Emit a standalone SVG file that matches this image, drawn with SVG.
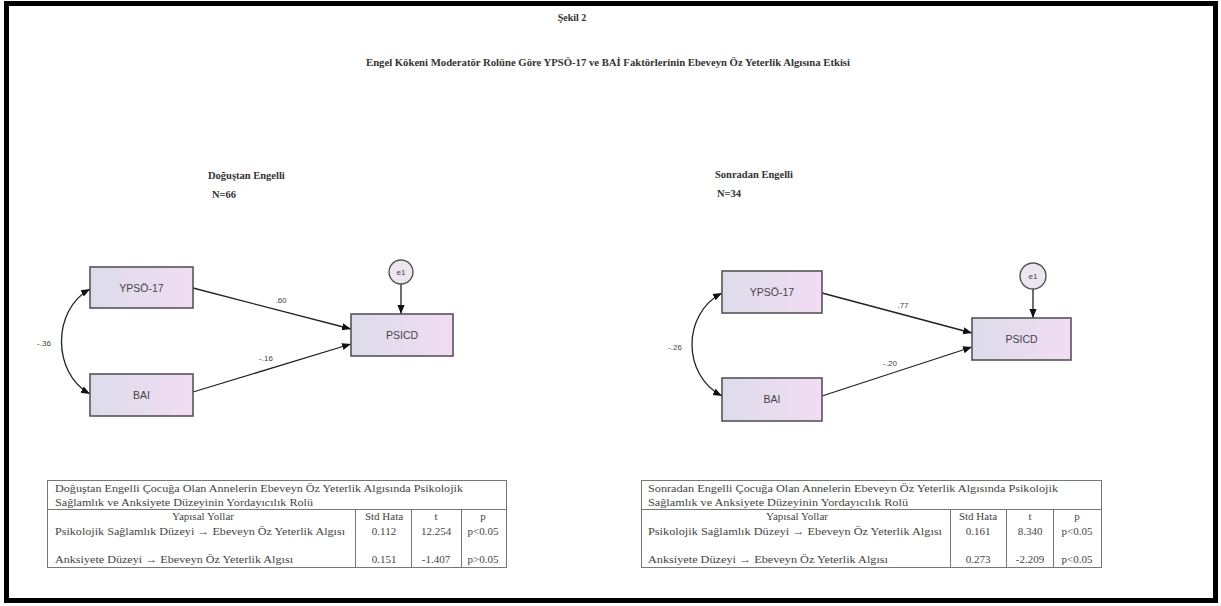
<svg xmlns="http://www.w3.org/2000/svg" width="1221" height="606" viewBox="0 0 1221 606">
  <defs>
    <linearGradient id="boxFill" x1="0" y1="0" x2="1" y2="0">
      <stop offset="0" stop-color="#dcdcea"/>
      <stop offset="1" stop-color="#f2dcf3"/>
    </linearGradient>
    <marker id="arrow" viewBox="0 0 10 10" refX="10" refY="5" markerWidth="9" markerHeight="9" markerUnits="userSpaceOnUse" orient="auto-start-reverse">
      <path d="M0,1 L10,5 L0,9 Z" fill="#111"/>
    </marker>
    <style>
      .frame { fill: none; stroke: #000; stroke-width: 5; }
      .serifB { font-family: "Liberation Serif", "DejaVu Serif", serif; font-weight: bold; fill: #333; }
      .box { fill: url(#boxFill); stroke: #555; stroke-width: 1.6; }
      .err { fill: #ebe6ef; stroke: #555; stroke-width: 1.4; }
      .lbl { font-family: "Liberation Sans", Arial, sans-serif; font-size: 10.5px; fill: #444; text-anchor: middle; }
      .plbl { font-family: "Liberation Sans", Arial, sans-serif; font-size: 8px; fill: #444; text-anchor: middle; }
      .edge { fill: none; stroke: #222; stroke-width: 1.3; marker-end: url(#arrow); }
      .cov { fill: none; stroke: #222; stroke-width: 1.3; marker-start: url(#arrow); marker-end: url(#arrow); }
      .tbl { fill: none; stroke: #777; stroke-width: 1; }
      .tt { font-family: "Liberation Serif", "DejaVu Serif", serif; font-size: 11px; fill: #444; }
      .tc { font-family: "Liberation Serif", "DejaVu Serif", serif; font-size: 11px; fill: #444; text-anchor: middle; }
    </style>
  </defs>

  <rect width="1221" height="606" fill="#fff"/>
  <rect class="frame" x="6.5" y="3.5" width="1209" height="597"/>

  <!-- headings -->
  <text class="serifB" x="572" y="21" font-size="10" text-anchor="middle">Şekil 2</text>
  <text class="serifB" x="366" y="66" font-size="10" textLength="484" lengthAdjust="spacingAndGlyphs">Engel Kökeni Moderatör Rolüne Göre YPSÖ-17 ve BAİ Faktörlerinin Ebeveyn Öz Yeterlik Algısına Etkisi</text>

  <text class="serifB" x="208" y="179" font-size="10.5">Doğuştan Engelli</text>
  <text class="serifB" x="212" y="198" font-size="10.5">N=66</text>
  <text class="serifB" x="715" y="178" font-size="10.5">Sonradan Engelli</text>
  <text class="serifB" x="717" y="197" font-size="10.5">N=34</text>

  <!-- connectors -->
  <g id="connectors">
    <path class="edge" d="M193,288 L351,329"/>
    <path class="edge" d="M193,392 L351,344"/>
    <path class="edge" d="M401,284 L401,314"/>
    <path class="cov" d="M90,289 C52,310 52,373 90,394"/>
    <text class="plbl" x="281" y="303">.60</text>
    <text class="plbl" x="266" y="361">-.16</text>
    <text class="plbl" x="44" y="346">-.36</text>

    <path class="edge" d="M822,293 L972,333"/>
    <path class="edge" d="M822,396 L972,347"/>
    <path class="edge" d="M1033,289 L1033,318"/>
    <path class="cov" d="M722,293 C682,314 682,375 722,396"/>
    <text class="plbl" x="903" y="308">.77</text>
    <text class="plbl" x="890" y="366">-.20</text>
    <text class="plbl" x="675" y="350">-.26</text>
  </g>

  <!-- left model -->
  <g id="ypso-left">
    <rect class="box" x="90" y="267" width="103" height="41"/>
    <text class="lbl" x="141.5" y="291.5">YPSÖ-17</text>
  </g>
  <g id="bai-left">
    <rect class="box" x="90" y="374" width="103" height="42"/>
    <text class="lbl" x="141.5" y="398.5">BAI</text>
  </g>
  <g id="psicd-left">
    <rect class="box" x="351" y="314" width="102" height="42"/>
    <text class="lbl" x="402" y="338.5">PSICD</text>
  </g>
  <g id="e1-left">
    <circle class="err" cx="401" cy="272" r="12"/>
    <text class="plbl" x="401" y="275">e1</text>
  </g>

  <!-- right model -->
  <g id="ypso-right">
    <rect class="box" x="722" y="271" width="100" height="42"/>
    <text class="lbl" x="772" y="295.5">YPSÖ-17</text>
  </g>
  <g id="bai-right">
    <rect class="box" x="722" y="378" width="100" height="43"/>
    <text class="lbl" x="772" y="403">BAI</text>
  </g>
  <g id="psicd-right">
    <rect class="box" x="972" y="318" width="99" height="42"/>
    <text class="lbl" x="1021.5" y="342.5">PSICD</text>
  </g>
  <g id="e1-right">
    <circle class="err" cx="1033" cy="276" r="13"/>
    <text class="plbl" x="1033" y="279">e1</text>
  </g>

  <!-- left table -->
  <g id="table-left">
    <rect class="tbl" x="47.5" y="480.5" width="459" height="87"/>
    <line class="tbl" x1="47.5" y1="509.5" x2="506.5" y2="509.5"/>
    <line class="tbl" x1="355.5" y1="509.5" x2="355.5" y2="567.5"/>
    <line class="tbl" x1="411.5" y1="509.5" x2="411.5" y2="567.5"/>
    <line class="tbl" x1="461.5" y1="509.5" x2="461.5" y2="567.5"/>
    <text class="tt" x="55" y="492" textLength="408" lengthAdjust="spacingAndGlyphs">Doğuştan Engelli Çocuğa Olan Annelerin Ebeveyn Öz Yeterlik Algısında Psikolojik</text>
    <text class="tt" x="55" y="506" textLength="258" lengthAdjust="spacingAndGlyphs">Sağlamlık ve Anksiyete Düzeyinin Yordayıcılık Rolü</text>
    <text class="tc" x="203" y="520">Yapısal Yollar</text>
    <text class="tc" x="384" y="520">Std Hata</text>
    <text class="tc" x="436" y="520">t</text>
    <text class="tc" x="483" y="520">p</text>
    <text class="tt" x="55" y="535" textLength="290" lengthAdjust="spacingAndGlyphs">Psikolojik Sağlamlık Düzeyi → Ebeveyn Öz Yeterlik Algısı</text>
    <text class="tc" x="384" y="535">0.112</text>
    <text class="tc" x="436" y="535">12.254</text>
    <text class="tc" x="483" y="535">p&lt;0.05</text>
    <text class="tt" x="55" y="563" textLength="238" lengthAdjust="spacingAndGlyphs">Anksiyete Düzeyi → Ebeveyn Öz Yeterlik Algısı</text>
    <text class="tc" x="384" y="563">0.151</text>
    <text class="tc" x="436" y="563">-1.407</text>
    <text class="tc" x="483" y="563">p&gt;0.05</text>
  </g>

  <!-- right table -->
  <g id="table-right">
    <rect class="tbl" x="641.5" y="480.5" width="460" height="87"/>
    <line class="tbl" x1="641.5" y1="509.5" x2="1101.5" y2="509.5"/>
    <line class="tbl" x1="950.5" y1="509.5" x2="950.5" y2="567.5"/>
    <line class="tbl" x1="1006.5" y1="509.5" x2="1006.5" y2="567.5"/>
    <line class="tbl" x1="1053.5" y1="509.5" x2="1053.5" y2="567.5"/>
    <text class="tt" x="648" y="492" textLength="410" lengthAdjust="spacingAndGlyphs">Sonradan Engelli Çocuğa Olan Annelerin Ebeveyn Öz Yeterlik Algısında Psikolojik</text>
    <text class="tt" x="648" y="506" textLength="260" lengthAdjust="spacingAndGlyphs">Sağlamlık ve Anksiyete Düzeyinin Yordayıcılık Rolü</text>
    <text class="tc" x="797" y="520">Yapısal Yollar</text>
    <text class="tc" x="978" y="520">Std Hata</text>
    <text class="tc" x="1030" y="520">t</text>
    <text class="tc" x="1077" y="520">p</text>
    <text class="tt" x="648" y="535" textLength="294" lengthAdjust="spacingAndGlyphs">Psikolojik Sağlamlık Düzeyi → Ebeveyn Öz Yeterlik Algısı</text>
    <text class="tc" x="978" y="535">0.161</text>
    <text class="tc" x="1030" y="535">8.340</text>
    <text class="tc" x="1077" y="535">p&lt;0.05</text>
    <text class="tt" x="648" y="563" textLength="240" lengthAdjust="spacingAndGlyphs">Anksiyete Düzeyi → Ebeveyn Öz Yeterlik Algısı</text>
    <text class="tc" x="978" y="563">0.273</text>
    <text class="tc" x="1030" y="563">-2.209</text>
    <text class="tc" x="1077" y="563">p&lt;0.05</text>
  </g>
</svg>
